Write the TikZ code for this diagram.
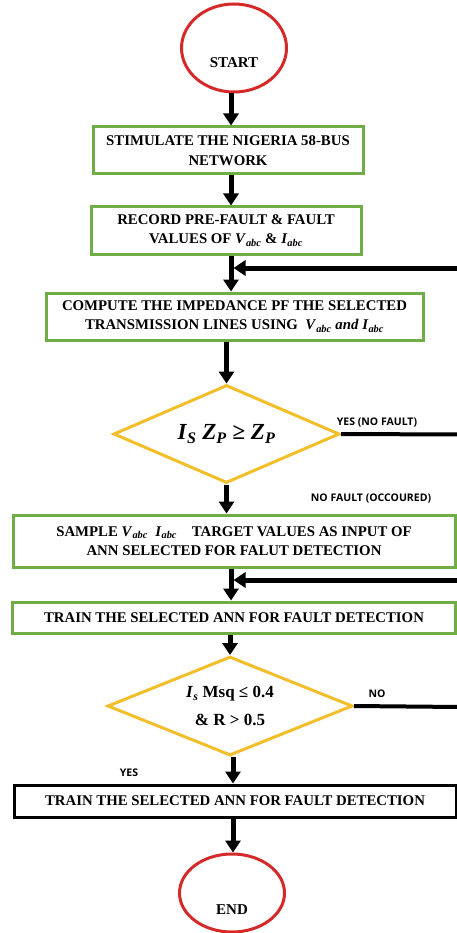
\documentclass[tikz,border=0pt]{standalone}
\usepackage{fontspec}
\setmainfont{Liberation Serif}
\newfontfamily\lblfont{Open Sans}
\usetikzlibrary{shapes.geometric,arrows.meta}

\definecolor{boxgreen}{HTML}{70AD47}
\definecolor{decgold}{HTML}{F2BE2A}
\definecolor{termred}{HTML}{D42A2A}

% bold italic quantity with an italic subscript
\newcommand{\varsub}[2]{\textit{#1}\textsubscript{\textit{#2}}}
\newcommand{\boxfont}{\fontsize{14.8}{19.5}\selectfont\bfseries}

\tikzset{
  procbox/.style={rectangle, draw=boxgreen, line width=3pt, inner sep=0pt,
                  align=center, font=\boxfont},
  finalbox/.style={procbox, draw=black},
  decision/.style={diamond, draw=decgold, line width=3pt, inner sep=0pt,
                   align=center},
  terminal/.style={ellipse, draw=termred, line width=3pt, inner sep=0pt},
  termtext/.style={font=\fontsize{15}{18}\selectfont\bfseries},
  flow/.style={line width=5pt, -{Triangle[length=12pt,width=15pt]}},
  plainline/.style={line width=4pt},
  branchlbl/.style={font=\lblfont\fontsize{10.5}{12}\selectfont\bfseries}
}

\begin{document}
\begin{tikzpicture}[x=1pt,y=-1pt]
\useasboundingbox (0,0) rectangle (457,933);

\coordinate (col) at (231,0);

% terminals
\node[terminal, minimum width=105pt, minimum height=88pt] (start) at (234,48) {};
\node[termtext] (startlbl) at (234,63) {START};

% process steps
\node[procbox, minimum width=270pt, minimum height=47pt] (box1) at (228,150.5)
  {STIMULATE THE NIGERIA 58-BUS\\NETWORK};
\node[procbox, minimum width=270pt, minimum height=47pt] (box2) at (226,230.5)
  {RECORD PRE-FAULT \& FAULT\\VALUES OF \varsub{V}{abc} \& \varsub{I}{abc}};
\node[procbox, minimum width=377pt, minimum height=47pt] (box3) at (234.5,316.5)
  {COMPUTE THE IMPEDANCE PF THE SELECTED\\TRANSMISSION LINES USING \ \varsub{V}{abc} \textit{and} \varsub{I}{abc}};

\node[decision, minimum width=226pt, minimum height=98pt, aspect=2.3,
      font=\fontsize{23}{26}\selectfont\bfseries] (d1) at (226.5,434)
  {\textit{I}\textsubscript{\textit{S}} \textit{Z}\textsubscript{\textit{P}} ≥\ \textit{Z}\textsubscript{\textit{P}}};

\node[procbox, minimum width=442pt, minimum height=52pt] (box4) at (234,541)
  {SAMPLE \varsub{V}{abc}\ \ \varsub{I}{abc}\ \ \ \ TARGET VALUES AS INPUT OF\\ANN SELECTED FOR FALUT DETECTION};
\node[procbox, minimum width=443pt, minimum height=31pt] (box5) at (234,617.5)
  {TRAIN THE SELECTED ANN FOR FAULT DETECTION};

\node[decision, minimum width=245pt, minimum height=99pt, aspect=2.47,
      font=\fontsize{17}{28}\selectfont\bfseries] (d2) at (230,706)
  {\varsub{I}{s} Msq ≤ 0.4\\\& R > 0.5};

\node[finalbox, minimum width=442pt, minimum height=32pt] (box6) at (235,801)
  {TRAIN THE SELECTED ANN FOR FAULT DETECTION};

\node[terminal, minimum width=105pt, minimum height=78pt] (end) at (232,893) {};
\node[termtext] (endlbl) at (232,910) {END};

% branch labels
\node[branchlbl] (lyes1) at (377,423) {YES (NO FAULT)};
\node[branchlbl] (lnof) at (371,499) {NO FAULT (OCCOURED)};
\node[branchlbl] (lno) at (377,694) {NO};
\node[branchlbl] (lyes2) at (129,773) {YES};

% return paths entering the main column
\coordinate (j1) at (231,268);
\coordinate (j2) at (231,580);
\coordinate (r1) at (460,268);
\coordinate (r2) at (460,580);
\coordinate (x1) at (460,434.5);
\coordinate (x2) at (460,707);

% main flow
\draw[flow] (col |- start.south) -- (col |- box1.north);
\draw[flow] (col |- box1.south) -- (col |- box2.north);
\draw[flow] (col |- box2.south) -- (col |- box3.north);
\draw[flow] (d1.north |- box3.south) -- (d1.north);
\draw[flow] (d1.south) -- (d1.south |- box4.north);
\draw[flow] (col |- box4.south) -- (col |- box5.north);
\draw[flow] (d2.north |- box5.south) -- (d2.north);
\draw[flow] (233,0 |- d2.south) -- (233,0 |- box6.north);
\draw[flow] (233,0 |- box6.south) -- (233,0 |- end.north);

% feedback arrows and branch exits
\draw[flow] (r1) -- ([xshift=2.5pt]j1);
\draw[flow] (r2) -- ([xshift=2.5pt]j2);
\draw[plainline] (d1.east) -- (x1);
\draw[plainline] (d2.east) -- (x2);
\end{tikzpicture}
\end{document}
